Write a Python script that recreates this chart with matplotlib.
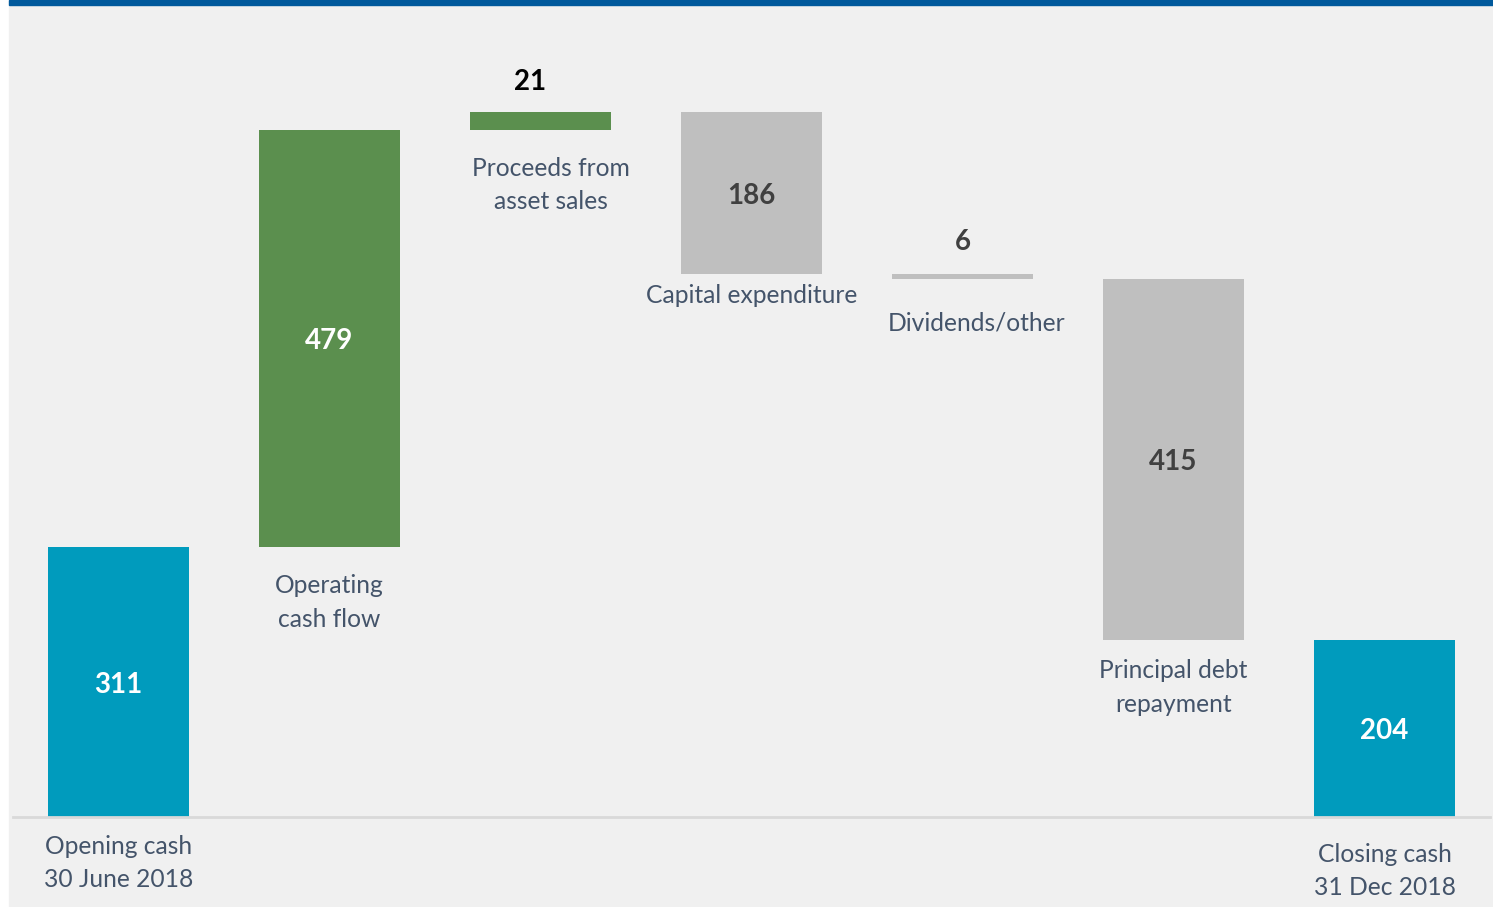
import matplotlib
matplotlib.use("Agg")
import matplotlib.pyplot as plt
import numpy as np

# waterfall data (USD m)
categories = ["Opening cash\n30 June 2018", "Operating\ncash flow", "Proceeds from\nasset sales",
              "Capital expenditure", "Dividends/other", "Principal debt\nrepayment",
              "Closing cash\n31 Dec 2018"]
values = [311, 479, 21, -186, -6, -415, 204]
kinds = ["total", "up", "up", "down", "down", "down", "total"]

# styling
colors = {"total": "#009BBD", "up": "#5B8F4E", "down": "#BFBFBF"}
txtcol = {"total": "white", "up": "white", "down": "#404040"}
bg = "#F0F0F0"
labcol = "#44546A"
# label offsets (pixels below bar bottom, to block center) and x nudges
lab_off = [46, 56, 55, 22, 44, 48, 54]
lab_dx = [0, 0, 0.05, 0, 0.065, 0, 0]

plt.rcParams['font.family'] = ['Lato', 'DejaVu Sans']

fig = plt.figure(figsize=(14.93, 9.07), dpi=100)
fig.patch.set_facecolor("white")
# grey panel + blue top rule
fig.patches.append(plt.Rectangle((9/1493, 0), 1 - 9/1493, 1, transform=fig.transFigure,
                                 color=bg, zorder=-5))
fig.patches.append(plt.Rectangle((9/1493, 1 - 5/907), 1 - 9/1493, 5/907, transform=fig.transFigure,
                                 color="#00599C", zorder=-4))

ax = fig.add_axes([13/1493, 90/907, 1477/1493, 812/907])
ax.set_facecolor("none")

# compute bottoms
bottoms = []
heights = []
run = 0
for v, k in zip(values, kinds):
    if k == "total":
        bottoms.append(0)
        heights.append(v)
        run = v
    else:
        if v >= 0:
            bottoms.append(run)
            heights.append(v)
        else:
            bottoms.append(run + v)
            heights.append(-v)
        run += v

x = np.arange(len(values))
ax.bar(x, heights, bottom=bottoms, width=0.668, color=[colors[k] for k in kinds], zorder=2)

for i, (v, k) in enumerate(zip(values, kinds)):
    b, h = bottoms[i], heights[i]
    if h < 30:
        # small bars: value above
        col = "black" if k == "up" else "#404040"
        ax.annotate(str(abs(v)), (i - (0.05 if k == "up" else 0), b + h),
                    xytext=(0, 30 if k == "up" else 32),
                    textcoords="offset pixels", ha="center", va="center",
                    fontsize=20, fontweight="bold", color=col)
    else:
        ax.annotate(str(abs(v)), (i, b + h / 2), xytext=(0, -3),
                    textcoords="offset pixels", ha="center", va="center",
                    fontsize=20, fontweight="bold", color=txtcol[k])
    ax.annotate(categories[i], (i + lab_dx[i], b), xytext=(0, -lab_off[i]),
                textcoords="offset pixels", ha="center", va="center",
                fontsize=17.7, color=labcol, linespacing=1.55)

ax.set_xlim(-0.5, 6.5)
ax.set_ylim(0, 812 / 0.8695)
for s in ["top", "right", "left"]:
    ax.spines[s].set_visible(False)
ax.spines["bottom"].set_color("#D9D9D9")
ax.spines["bottom"].set_linewidth(2)
ax.set_xticks([])
ax.set_yticks([])

fig.savefig("out.png", dpi=100, facecolor=fig.get_facecolor())
